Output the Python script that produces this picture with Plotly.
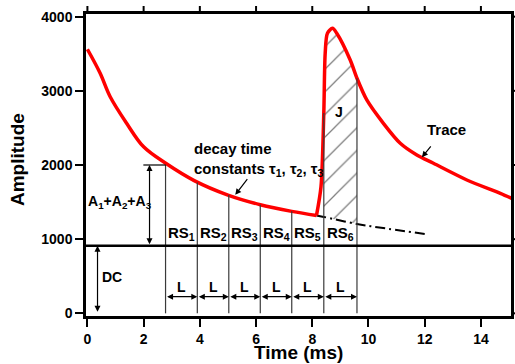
import plotly.graph_objects as go

# ---- data ----
decay_t = [0, 0.45, 0.81, 1.4, 2.0, 2.8, 3.8, 5.0, 6.15, 7.27, 8.15]
decay_a = [3560, 3240, 2920, 2560, 2245, 2020, 1790, 1595, 1465, 1375, 1320]

pulse_t = [8.15, 8.31, 8.41, 8.46, 8.54, 8.72, 8.87, 9.35, 9.59, 9.94, 10.53, 11.13, 11.72, 12.31, 13.5, 14.69, 15.1]
pulse_a = [1320, 1707, 2700, 3507, 3777, 3843, 3777, 3416, 3170, 2877, 2562, 2293, 2135, 2023, 1798, 1618, 1550]

ext_t = [8.15, 8.41, 9.59, 10.7, 12.0]
ext_a = [1320, 1300, 1205, 1140, 1070]

dc_level = 910
amp_level = 2000
amp_bracket_x = [1.99, 2.78]
boundaries = [2.78, 3.91, 5.03, 6.15, 7.27, 8.41, 9.59]
boundary_top = [2000, 1765, 1595, 1465, 1375, 2700, 3170]
rs_labels = ["RS<sub>1</sub>", "RS<sub>2</sub>", "RS<sub>3</sub>", "RS<sub>4</sub>", "RS<sub>5</sub>", "RS<sub>6</sub>"]

x_ticks = [0, 2, 4, 6, 8, 10, 12, 14]
y_ticks = [0, 1000, 2000, 3000, 4000]

X_RANGE = [-0.05, 15.07]
Y_RANGE = [-36, 4036]

FONT = "Liberation Sans, Arial, sans-serif"
W, H = 515, 364
M = dict(l=86, r=4, t=14, b=48)
TICKLEN = 8

fig = go.Figure()

# hatched J region
h_top_t = [t for t in pulse_t if boundaries[5] <= t <= boundaries[6]]
h_top_a = [a for t, a in zip(pulse_t, pulse_a) if boundaries[5] <= t <= boundaries[6]]
h_bot_t = [t for t in ext_t if boundaries[5] <= t <= boundaries[6]]
h_bot_a = [a for t, a in zip(ext_t, ext_a) if boundaries[5] <= t <= boundaries[6]]
fig.add_trace(go.Scatter(
    x=h_top_t + h_bot_t[::-1], y=h_top_a + h_bot_a[::-1],
    fill="toself", mode="lines", line=dict(width=0, color="rgba(0,0,0,0)"),
    fillcolor="white",
    fillpattern=dict(shape="/", fgcolor="black", bgcolor="white", size=16, solidity=0.08),
    hoverinfo="skip", showlegend=False))

# boundary lines
for b, top in zip(boundaries, boundary_top):
    fig.add_shape(type="line", x0=b, x1=b, y0=0, y1=top, xref="x", yref="y",
                  line=dict(color="#3a3a3a", width=1.2), layer="above")

# DC line
fig.add_shape(type="line", x0=0, x1=1, xref="paper", y0=dc_level, y1=dc_level, yref="y",
              line=dict(color="black", width=2.5), layer="above")
# amplitude bracket top
fig.add_shape(type="line", x0=amp_bracket_x[0], x1=amp_bracket_x[1], y0=amp_level, y1=amp_level,
              xref="x", yref="y", line=dict(color="black", width=1.2))

# mirrored outside ticks on the top and right frame edges
plot_w = W - M["l"] - M["r"]
plot_h = H - M["t"] - M["b"]
for xt in x_ticks:
    fig.add_shape(type="line", x0=xt, x1=xt, xref="x", y0=1, y1=1 + TICKLEN / plot_h, yref="paper",
                  line=dict(color="black", width=2))
for yt in y_ticks:
    fig.add_shape(type="line", y0=yt, y1=yt, yref="y", x0=1, x1=1 + TICKLEN / plot_w, xref="paper",
                  line=dict(color="black", width=2))

# extrapolated decay
fig.add_trace(go.Scatter(x=ext_t, y=ext_a, mode="lines",
                         line=dict(color="black", width=2, dash="10px,4px,2px,4px", shape="spline"),
                         hoverinfo="skip", showlegend=False))

# red trace
fig.add_trace(go.Scatter(x=decay_t, y=decay_a, mode="lines",
                         line=dict(color="#ff0000", width=3.5, shape="spline", smoothing=1),
                         hoverinfo="skip", showlegend=False))
fig.add_trace(go.Scatter(x=pulse_t, y=pulse_a, mode="lines",
                         line=dict(color="#ff0000", width=3.5, shape="spline", smoothing=0.8),
                         hoverinfo="skip", showlegend=False))

tfont = dict(family=FONT, size=14, color="black", weight="bold")
bfont = dict(family=FONT, size=15, color="black", weight="bold")


def arrow(x0, y0, x1, y1, both=False):
    fig.add_annotation(x=x1, y=y1, ax=x0, ay=y0, xref="x", yref="y", axref="x", ayref="y",
                       text="", showarrow=True, arrowhead=2, arrowsize=1, arrowwidth=1.2,
                       arrowcolor="black", arrowside="end+start" if both else "end",
                       startarrowhead=2, startarrowsize=1, standoff=0, startstandoff=0)


# amplitude & DC double arrows
arrow(2.21, dc_level, 2.21, amp_level, both=True)
arrow(0.36, 0, 0.36, dc_level, both=True)

fig.add_annotation(x=1.15, y=1505, text="A<sub>1</sub>+A<sub>2</sub>+A<sub>3</sub>", showarrow=False, font=tfont)
fig.add_annotation(x=0.88, y=493, text="DC", showarrow=False, font=tfont)

# RS labels and L arrows
for i, lab in enumerate(rs_labels):
    xc = (boundaries[i] + boundaries[i + 1]) / 2
    fig.add_annotation(x=xc, y=1075, text=lab, showarrow=False, font=bfont)
    fig.add_annotation(x=xc, y=350, text="L", showarrow=False, font=tfont)
    arrow(boundaries[i], 224, boundaries[i + 1], 224, both=True)

fig.add_annotation(x=8.96, y=2719, text="J", showarrow=False, font=tfont)

fig.add_annotation(x=12.79, y=2472, text="Trace", showarrow=False, font=bfont)
arrow(12.26, 2270, 11.9, 2105)

fig.add_annotation(x=3.72, y=2080, xanchor="left", yanchor="middle", align="left",
                   text="decay time<br>constants τ<sub>1</sub>, τ<sub>2</sub>, τ<sub>3</sub>",
                   showarrow=False, font=bfont)
arrow(5.73, 1829, 5.26, 1598)

# axis titles
title_font = dict(family=FONT, size=19, color="black", weight="bold")
fig.add_annotation(x=0.5, y=0, xref="paper", yref="paper", yshift=-36, text="Time (ms)",
                   showarrow=False, font=title_font, xanchor="center", yanchor="middle")
fig.add_annotation(x=0, y=0.5, xref="paper", yref="paper", xshift=-69, yshift=5, text="Amplitude",
                   textangle=-90, showarrow=False, font=title_font, xanchor="center", yanchor="middle")

axis_common = dict(showline=True, linecolor="black", linewidth=2.5, mirror=True,
                   ticks="outside", ticklen=TICKLEN, tickwidth=2, tickcolor="black",
                   showgrid=False, zeroline=False, automargin=False,
                   tickfont=dict(family=FONT, size=14, color="black", weight="bold"))

fig.update_layout(
    width=W, height=H,
    margin=M,
    paper_bgcolor="white", plot_bgcolor="white",
    xaxis=dict(range=X_RANGE, tickvals=x_ticks, **axis_common),
    yaxis=dict(range=Y_RANGE, tickvals=y_ticks, **axis_common),
)

fig.write_html("out.html", config={"displayModeBar": False},
               post_script="document.body.style.margin='0';document.body.style.overflow='hidden';")
